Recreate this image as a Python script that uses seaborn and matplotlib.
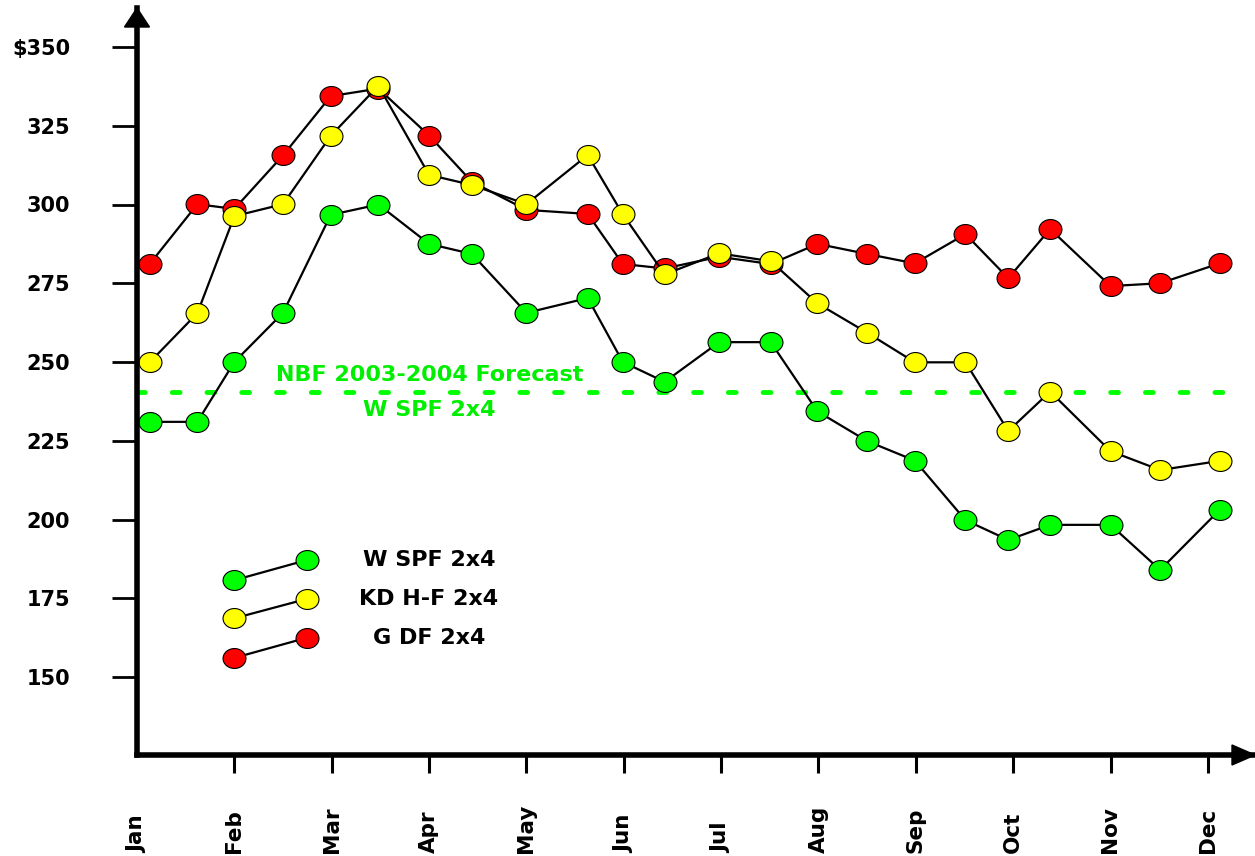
import matplotlib
matplotlib.use("Agg")
import matplotlib.pyplot as plt
import seaborn as sns
import pandas as pd
from matplotlib.path import Path
from matplotlib.transforms import Affine2D
from matplotlib.patches import Polygon

# ---------------- data ----------------
months = ["Jan", "Feb", "Mar", "Apr", "May", "Jun",
          "Jul", "Aug", "Sep", "Oct", "Nov", "Dec"]
# observation positions (in months from Jan)
obs_pos = [0.13, 0.62, 1.00, 1.50, 1.99, 2.48, 3.00, 3.44, 4.00, 4.63, 4.99,
           5.42, 5.98, 6.51, 6.99, 7.50, 7.99, 8.51, 8.95, 9.38, 10.00, 10.51, 11.12]
w_spf = [231.0, 231.0, 250.0, 265.6, 296.7, 300.0, 287.5, 284.3, 265.6, 270.3, 250.0,
         243.7, 256.3, 256.3, 234.3, 224.9, 218.7, 199.8, 193.5, 198.3, 198.3, 184.0, 203.0]
kd_hf = [249.9, 265.5, 296.3, 300.1, 321.8, 337.7, 309.4, 306.2, 300.1, 315.7, 296.9,
         277.8, 284.5, 282.0, 268.6, 259.3, 249.9, 249.9, 228.1, 240.6, 221.7, 215.7, 218.6]
g_df = [281.1, 300.1, 298.6, 315.6, 334.4, 336.8, 321.9, 307.2, 298.3, 297.0, 281.1,
        279.7, 283.4, 281.1, 287.5, 284.3, 281.3, 290.6, 276.6, 292.2, 274.1, 275.0, 281.3]
forecast_value = 240.5
forecast_label = "NBF 2003-2004 Forecast"
forecast_series = "W SPF 2x4"

series_names = ["W SPF 2x4", "KD H-F 2x4", "G DF 2x4"]
series_values = [w_spf, kd_hf, g_df]
series_colors = ["#00FF00", "#FFFF00", "#FF0000"]

yticks = [150, 175, 200, 225, 250, 275, 300, 325, 350]
ytick_labels = ["150", "175", "200", "225", "250", "275", "300", "325", "$350"]

# ---------------- style ----------------
sns.set_style("white")
plt.rcParams["font.family"] = ["DejaVu Sans"]
plt.rcParams["font.weight"] = "bold"
plt.rcParams["text.color"] = "black"
plt.rcParams["xtick.color"] = "black"
plt.rcParams["ytick.color"] = "black"
plt.rcParams["xtick.labelcolor"] = "black"
plt.rcParams["ytick.labelcolor"] = "black"

W, H = 1255, 856
fig = plt.figure(figsize=(W / 100, H / 100), dpi=100)
ax_l, ax_r, ax_b, ax_t = 137, 1255, 755, 8
ax = fig.add_axes([ax_l / W, (H - ax_b) / H, (ax_r - ax_l) / W, (ax_b - ax_t) / H])

px_per_month = 97.35
px_per_unit = 3.15
ax.set_xlim(0, (ax_r - ax_l) / px_per_month)
ax.set_ylim(350 - (ax_b - 47) / px_per_unit, 350 + (47 - ax_t) / px_per_unit)

# ellipse marker (slightly wider than tall)
ell = Path.unit_circle().transformed(Affine2D().scale(1.15, 1.0))

df = pd.DataFrame({
    "pos": obs_pos * 3,
    "price": w_spf + kd_hf + g_df,
    "series": sum([[n] * len(obs_pos) for n in series_names], []),
})

# draw red first, then yellow, then green
for name, color in reversed(list(zip(series_names, series_colors))):
    sub = df[df["series"] == name]
    sns.lineplot(data=sub, x="pos", y="price", ax=ax, color="black",
                 linewidth=1.6, marker=ell, markersize=16.5,
                 markerfacecolor=color, markeredgecolor="black",
                 markeredgewidth=0.8, sort=False, estimator=None, legend=False)

# forecast dotted line
ax.plot([0, 11.18], [forecast_value, forecast_value], color="#00FF00",
        linewidth=3.5, dash_capstyle="round", linestyle=(0, (1.6, 5.55)), zorder=1)
ax.text(3.01, forecast_value + 5.4, forecast_label, color="#00EE00",
        fontsize=16, fontweight="bold", ha="center", va="center")
ax.text(3.0, forecast_value - 5.7, forecast_series, color="#00EE00",
        fontsize=16, fontweight="bold", ha="center", va="center")

# legend drawn by hand
leg_y = [(0.234, 0.261), (0.183, 0.209), (0.130, 0.157)]
for (name, color), (y0, y1) in zip(zip(series_names, series_colors), leg_y):
    ax.plot([0.087, 0.152], [y0, y1], transform=ax.transAxes, color="black",
            linewidth=1.6, marker=ell, markersize=16.5, markerfacecolor=color,
            markeredgecolor="black", markeredgewidth=0.8, clip_on=False)
    ax.text(0.261, y1, name, transform=ax.transAxes, fontsize=16,
            fontweight="bold", ha="center", va="center", color="black")

# axes
for s in ["top", "right"]:
    ax.spines[s].set_visible(False)
for s in ["left", "bottom"]:
    ax.spines[s].set_linewidth(4)
    ax.spines[s].set_color("black")

ax.set_yticks(yticks)
ax.set_yticklabels(ytick_labels, fontsize=15, fontweight="bold", color="black")
ax.tick_params(axis="y", direction="out", length=18, width=2, pad=30, left=True,
               colors="black")

ax.set_xticks(range(len(months)))
ax.set_xticklabels(months, rotation=90, va="bottom", ha="center",
                   fontsize=15.5, fontweight="bold", color="black")
ax.tick_params(axis="x", direction="out", length=13, width=2.2, pad=57.6, bottom=True,
               colors="black")
ax.xaxis.get_major_ticks()[0].tick1line.set_visible(False)
ax.set_xlabel("")
ax.set_ylabel("")

# arrow heads
aw, ah = ax_r - ax_l, ax_b - ax_t
ax.add_patch(Polygon([(0, 1.0), (-12.5 / aw, 1 - 19 / ah), (12.5 / aw, 1 - 19 / ah)],
                     closed=True, transform=ax.transAxes, color="black",
                     clip_on=False, zorder=5))
ax.add_patch(Polygon([(1.0, 0), (1 - 23 / aw, 10 / ah), (1 - 23 / aw, -10 / ah)],
                     closed=True, transform=ax.transAxes, color="black",
                     clip_on=False, zorder=5))

fig.savefig("out.png", dpi=100)
